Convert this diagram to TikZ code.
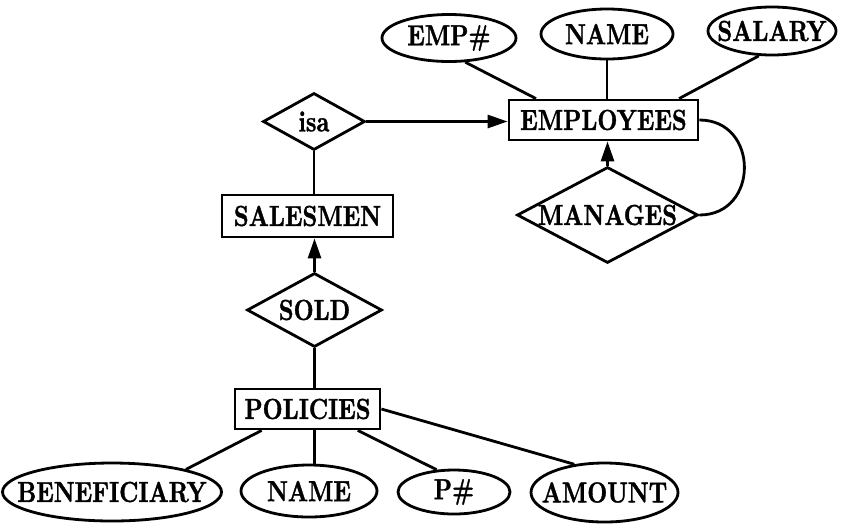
\documentclass[tikz,border=0pt]{standalone}
\usepackage{fontspec}
\usetikzlibrary{shapes.geometric,arrows.meta,calc}
% narrow, heavy Latin Modern bold for all labels
\newfontfamily\erfont{lmroman10-bold}[Extension=.otf, FakeStretch=0.8, FakeBold=1.2]
\begin{document}
\begin{tikzpicture}[x=1pt,y=-1pt,
  line width=2.8pt,
  txt/.style={font=\erfont\fontsize{29}{30}\selectfont, inner sep=0pt},
  entity/.style 2 args={draw, rectangle, txt, minimum width=#1, minimum height=#2},
  attr/.style n args={3}{draw, ellipse, inner sep=0pt, minimum width=#1, minimum height=#2,
    label={[txt]center:#3}},
  rel/.style n args={3}{draw, diamond, inner sep=0pt, minimum width=#1, minimum height=#2,
    label={[txt]center:#3}},
  link/.style={line width=2.8pt},
  tolink/.style={line width=2.8pt, -{Triangle[length=20pt,width=13pt]}}]
\useasboundingbox (0,0) rectangle (842,523);

% entities
\node[entity={189pt}{40pt}] (empl)  at (603.5,120) {EMPLOYEES};
\node[entity={171pt}{42pt}] (sales) at (307.5,216) {SALESMEN};
\node[entity={145pt}{40pt}] (pol)   at (307.5,409) {POLICIES};

% relationships
\node[rel={102pt}{57pt}{isa}]     (isa)  at (314,121.5) {};
\node[rel={181pt}{96pt}{MANAGES}] (mng)  at (607.5,215) {};
\node[rel={135pt}{74pt}{SOLD}]    (sold) at (314.5,310) {};

% attributes of EMPLOYEES
\node[attr={134pt}{47pt}{EMP\#}]  (emp)   at (449,38) {};
\node[attr={132pt}{50pt}{NAME}]   (ename) at (607,34) {};
\node[attr={128pt}{48pt}{SALARY}] (sal)   at (772,31) {};

% attributes of POLICIES
\node[attr={219pt}{58pt}{BENEFICIARY}] (ben)   at (112,492) {};
\node[attr={136pt}{52pt}{NAME}]        (pname) at (309,491) {};
\node[attr={112pt}{44pt}{P\#}]         (pno)   at (454,492) {};
\node[attr={147pt}{59pt}{AMOUNT}]      (amt)   at (604.5,492.5) {};

% attribute links
\draw[link] (emp.-56) -- ($(empl.north west)!0.148!(empl.north east)$);
\draw[link] (ename.south) -- (ename.south |- empl.north);
\draw[link] (sal.-118) -- ($(empl.north west)!0.894!(empl.north east)$);
\draw[link] (ben.17) -- ($(pol.south west)!0.19!(pol.south east)$);
\draw[link] (sold.south |- pol.south) -- (sold.south |- pname.north);
\draw[link] (pno.128) -- ($(pol.south west)!0.84!(pol.south east)$);
\draw[link] (amt.137) -- (pol.east);

% relationship links
\draw[tolink] (isa.east) -- (isa.east -| empl.west);
\draw[link] (isa.south) -- (isa.south |- sales.north);
\draw[tolink] (mng.north) -- (mng.north |- empl.south);
\draw[link] (empl.east) .. controls +(60,0) and +(60,0) .. (mng.east);
\draw[tolink] (sold.north) -- (sold.north |- sales.south);
\draw[link] (sold.south) -- (sold.south |- pol.north);
\end{tikzpicture}
\end{document}
